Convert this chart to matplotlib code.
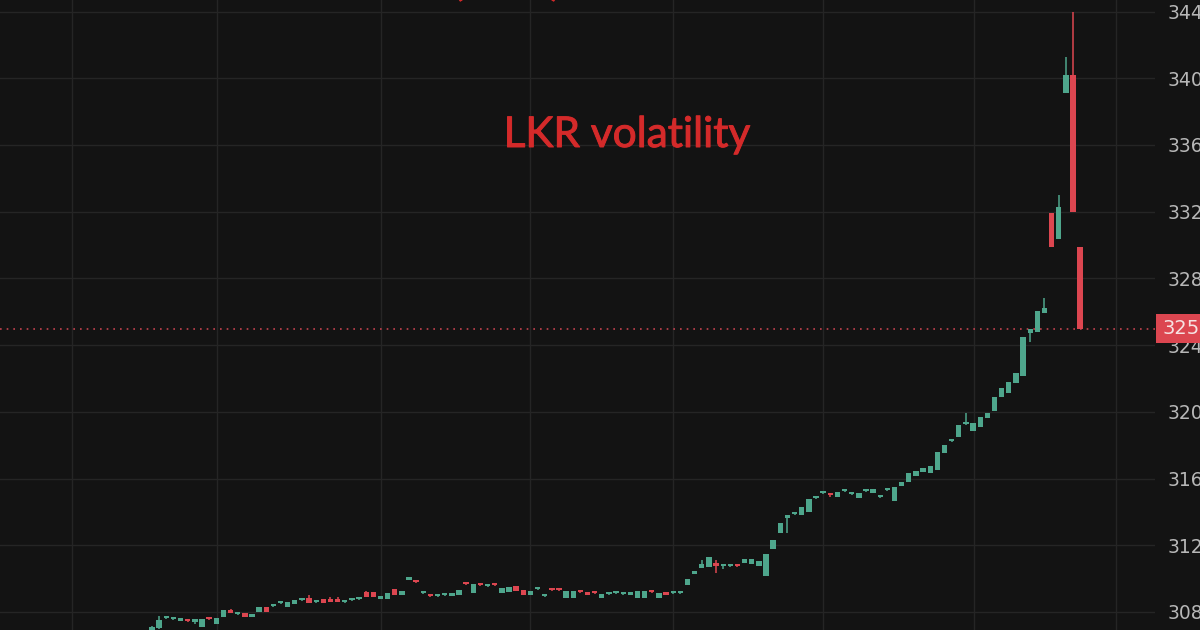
import numpy as np
import matplotlib.pyplot as plt
import matplotlib.patheffects as pe
from matplotlib.patches import Rectangle

# daily candles, USD/LKR
opens = [306.90, 307.04, 307.62, 307.56, 307.46, 307.48, 307.42, 307.10, 307.60, 307.28,
         307.70, 308.06, 307.86, 307.94, 307.70, 308.00, 308.30, 308.34, 308.52, 308.30,
         308.48, 308.70, 308.84, 308.58, 308.78, 308.72, 308.72, 308.58, 308.70, 308.76,
         309.20, 309.20, 308.78, 308.78, 309.38, 309.02, 309.92, 309.82, 309.12, 308.98,
         308.94, 309.00, 308.96, 309.02, 309.70, 309.14, 309.64, 309.54, 309.64, 309.14,
         309.20, 309.56, 309.32, 309.02, 309.36, 308.94, 309.34, 309.34, 308.84, 308.84,
         309.22, 309.20, 309.16, 308.84, 309.06, 309.12, 309.06, 309.02, 308.84, 308.84,
         309.22, 308.84, 309.20, 309.12, 309.12, 309.62, 310.28, 310.64, 310.70, 310.88,
         310.74, 310.74, 310.78, 310.94, 310.88, 310.76, 310.16, 311.78, 312.74, 313.66,
         313.86, 313.82, 314.00, 314.81, 315.11, 315.04, 314.89, 315.23, 315.05, 314.83,
         315.23, 315.13, 314.87, 315.29, 314.65, 315.55, 315.79, 316.15, 316.39, 316.33,
         316.51, 317.53, 318.23, 318.49, 319.25, 318.85, 319.09, 319.63, 320.05, 320.89,
         321.13, 321.73, 322.15, 324.73, 324.79, 325.93, 331.92, 330.36, 339.12, 340.19,
         329.88]
highs = [307.15, 307.76, 307.76, 307.62, 307.50, 307.50, 307.50, 307.60, 307.62, 307.66,
         308.14, 308.20, 307.92, 307.96, 307.74, 308.32, 308.32, 308.40, 308.58, 308.62,
         308.74, 308.86, 309.02, 308.64, 308.80, 308.90, 308.90, 308.64, 308.86, 308.82,
         309.26, 309.22, 308.82, 309.16, 309.40, 309.28, 310.04, 309.84, 309.26, 309.00,
         309.00, 309.06, 309.00, 309.34, 309.72, 309.70, 309.66, 309.68, 309.66, 309.46,
         309.52, 309.58, 309.34, 309.28, 309.50, 309.00, 309.36, 309.36, 309.28, 309.28,
         309.24, 309.22, 309.18, 309.10, 309.12, 309.26, 309.12, 309.22, 309.28, 309.28,
         309.24, 309.16, 309.22, 309.18, 309.18, 310.00, 310.42, 311.12, 311.32, 311.12,
         310.80, 310.80, 310.80, 311.20, 311.20, 311.08, 311.50, 312.34, 313.36, 313.72,
         313.92, 314.32, 314.79, 314.87, 315.17, 315.15, 315.21, 315.29, 315.11, 315.15,
         315.35, 315.39, 314.93, 315.35, 315.51, 315.81, 316.35, 316.47, 316.65, 316.77,
         317.61, 318.03, 318.29, 319.23, 319.93, 319.35, 319.71, 319.95, 320.91, 321.45,
         321.81, 322.35, 324.51, 324.99, 326.07, 326.83, 331.94, 333.00, 341.27, 343.97,
         329.90]
lows = [306.80, 307.00, 307.60, 307.54, 307.44, 307.42, 307.30, 307.08, 307.54, 307.26,
        307.68, 307.94, 307.84, 307.68, 307.68, 307.98, 307.98, 308.32, 308.50, 308.28,
        308.46, 308.68, 308.52, 308.56, 308.52, 308.60, 308.60, 308.56, 308.68, 308.74,
        308.88, 308.88, 308.76, 308.76, 309.00, 309.00, 309.90, 309.76, 309.10, 308.92,
        308.92, 308.98, 308.94, 309.00, 309.64, 309.12, 309.58, 309.52, 309.58, 309.12,
        309.18, 309.24, 309.00, 309.00, 309.34, 308.92, 309.28, 309.28, 308.82, 308.82,
        309.16, 309.00, 309.10, 308.82, 309.04, 309.10, 309.04, 309.00, 308.82, 308.82,
        309.16, 308.82, 309.00, 309.10, 309.10, 309.60, 310.26, 310.62, 310.68, 310.34,
        310.60, 310.72, 310.72, 310.92, 310.86, 310.74, 310.14, 311.76, 312.72, 312.74,
        313.84, 313.80, 313.98, 314.79, 315.09, 314.90, 314.87, 315.21, 315.03, 314.81,
        315.21, 315.11, 314.85, 315.27, 314.63, 315.53, 315.77, 316.13, 316.37, 316.31,
        316.49, 317.51, 318.21, 318.47, 319.23, 318.83, 319.07, 319.61, 320.03, 320.87,
        321.11, 321.71, 322.13, 324.19, 324.77, 325.91, 329.86, 330.34, 339.10, 331.96,
        324.95]
closes = [307.10, 307.52, 307.66, 307.60, 307.48, 307.44, 307.48, 307.58, 307.56, 307.64,
          308.12, 307.96, 307.90, 307.70, 307.72, 308.30, 308.00, 308.38, 308.56, 308.60,
          308.72, 308.74, 308.54, 308.62, 308.54, 308.62, 308.62, 308.62, 308.74, 308.80,
          308.90, 308.90, 308.80, 309.14, 309.02, 309.26, 309.96, 309.78, 309.16, 308.94,
          308.98, 309.04, 308.98, 309.32, 309.66, 309.68, 309.60, 309.58, 309.60, 309.44,
          309.50, 309.26, 309.02, 309.26, 309.40, 308.98, 309.30, 309.30, 309.26, 309.26,
          309.18, 309.02, 309.12, 309.08, 309.10, 309.16, 309.10, 309.20, 309.26, 309.26,
          309.18, 309.14, 309.02, 309.16, 309.16, 309.98, 310.40, 310.88, 311.30, 310.76,
          310.78, 310.78, 310.74, 311.18, 311.18, 311.06, 311.48, 312.32, 313.34, 313.70,
          313.90, 314.30, 314.77, 314.85, 315.15, 315.00, 315.19, 315.27, 315.09, 315.13,
          315.27, 315.37, 314.91, 315.33, 315.49, 315.79, 316.33, 316.45, 316.63, 316.75,
          317.59, 318.01, 318.27, 319.21, 319.29, 319.33, 319.69, 319.93, 320.89, 321.43,
          321.79, 322.33, 324.49, 324.97, 326.05, 326.23, 329.88, 332.28, 340.19, 331.98,
          324.97]

last_price = 324.97
y_ticks = [308, 312, 316, 320, 324, 328, 332, 336, 340, 344]
x_grid = [-11.2, 9.1, 32.1, 52.9, 73.0, 94.0, 115.1, 135.0]

BG = '#131313'
UP = '#4ea68c'
DOWN = '#dc4650'
TITLE = '#d42a2a'

opens, highs, lows, closes = map(np.array, (opens, highs, lows, closes))
idx = np.arange(len(opens))
colors = np.where(closes >= opens, UP, DOWN)
bottoms = np.minimum(opens, closes)
heights = np.maximum(np.abs(closes - opens), 0.16)

fig = plt.figure(figsize=(12, 6.3), dpi=100, facecolor=BG)
ax = fig.add_axes([0, 0, 1155/1200, 1], facecolor=BG)

ax.vlines(idx, lows, highs, colors=colors, lw=1.1, zorder=2)
ax.bar(idx, heights, bottom=bottoms, width=0.75, color=colors, lw=0, zorder=3)

ax.axhline(last_price, color='#c4424f', ls=(0, (1, 3)), lw=1.2, zorder=1)

ax.set_xlim(-21.29, 140.48)
ax.set_ylim(306.92, 344.69)
ax.set_xticks(x_grid)
ax.set_yticks(y_ticks)
ax.grid(color='#252525', lw=1)
ax.set_axisbelow(True)
ax.yaxis.tick_right()
ax.tick_params(axis='x', length=0, labelbottom=False)
ax.tick_params(axis='y', length=0, pad=9.4, labelsize=13.5, labelcolor='#b7b7b7')
for s in ax.spines.values():
    s.set_visible(False)

# last price tag
fig.add_artist(Rectangle((1156/1200, 1 - 343/630), 44/1200, 29/630,
                         transform=fig.transFigure, fc=DOWN, ec='none', zorder=5))
fig.text(1162/1200, 1 - 329/630, '325', color='#f6e2e2', fontsize=14,
         va='center', ha='left', zorder=6)

thick = [pe.withStroke(linewidth=0.7, foreground=TITLE)]
fig.text(627/1200, 1 - 147/630, 'LKR volatility', color=TITLE,
         fontsize=30.5, family=['Lato', 'DejaVu Sans'], ha='center', va='baseline',
         path_effects=thick)
fig.text(507/1200, 1 + 5/630, '(USD)', color=TITLE,
         fontsize=30.5, family=['Lato', 'DejaVu Sans'], ha='center', va='baseline',
         path_effects=thick)

fig.savefig('out.png', dpi=100, facecolor=BG)
